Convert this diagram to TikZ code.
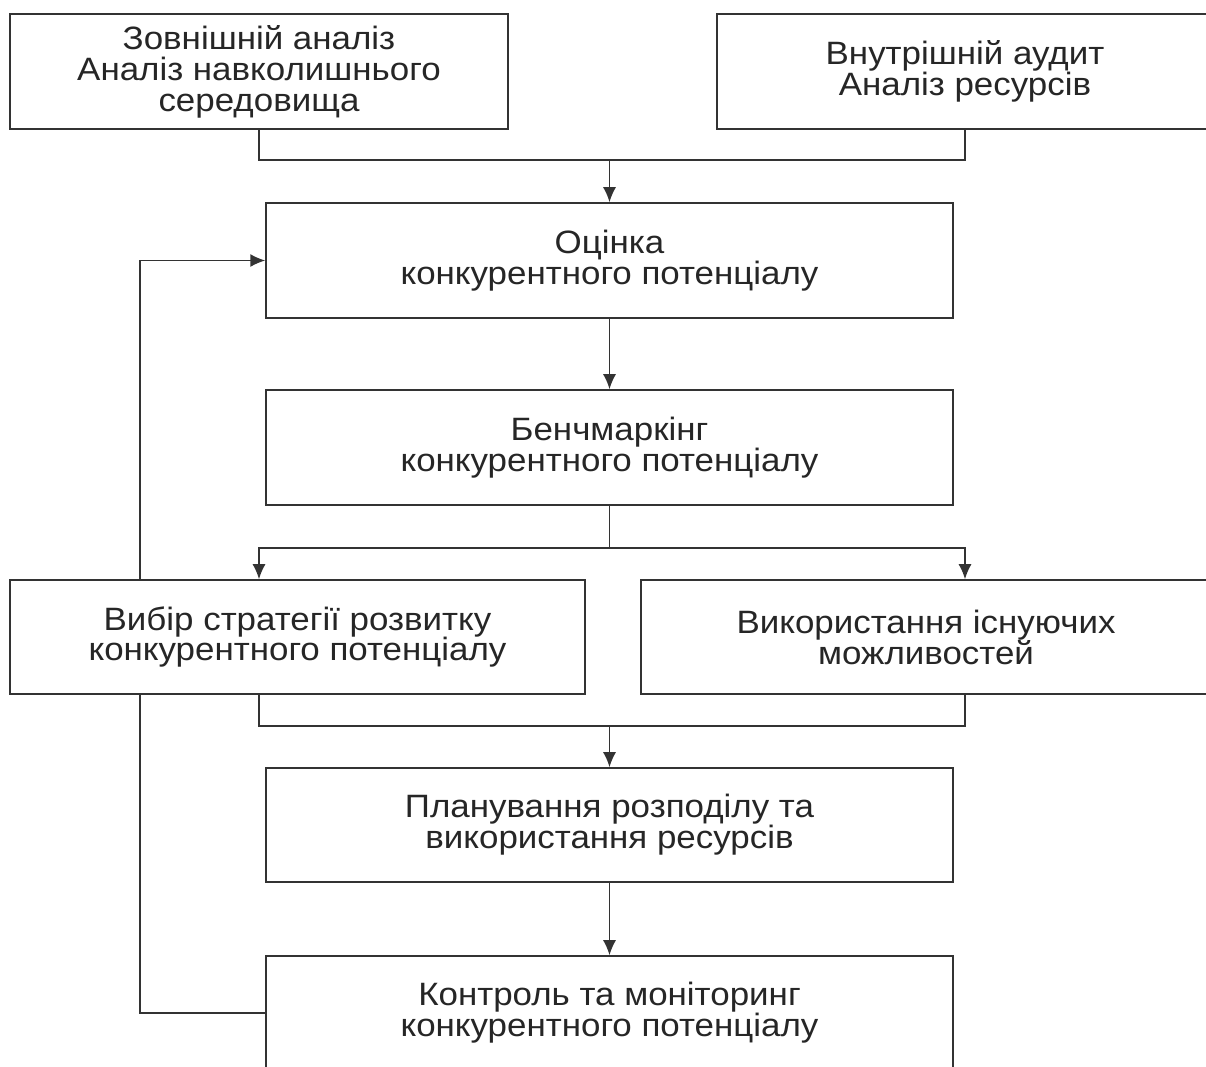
\documentclass[tikz,border=0pt]{standalone}
\usepackage{fontspec}
\setmainfont[FakeStretch=1.08]{Liberation Sans}
\usetikzlibrary{arrows.meta,backgrounds}

\tikzset{
  blok/.style={draw=black!80, line width=0.9pt, fill=white, text=black!85,
    align=center, inner sep=0pt, font=\fontsize{18.4}{17.6}\selectfont},
  strilka/.style={-{Latex[length=0.3cm,width=0.26cm]}},
  liniya/.style={draw=black!80, line width=0.9pt}
}

\begin{document}
\begin{tikzpicture}[x=0.02cm, y=-0.02cm]
 \useasboundingbox (0,0) rectangle (1206,1066);

 % upper level
 \node[blok, minimum width=9.96cm, minimum height=2.3cm] (zovn) at (259,71.5)
   {Зовнішній аналіз\\Аналіз навколишнього\\середовища};
 \node[blok, minimum width=9.92cm, minimum height=2.3cm] (vnutr) at (965,71.5)
   {Внутрішній аудит\\Аналіз ресурсів};
 \coordinate (zb) at (609.5,160);

 \node[blok, minimum width=13.74cm, minimum height=2.3cm] (otsinka) at (609.5,260.5)
   {Оцінка\\конкурентного потенціалу};
 \node[blok, minimum width=13.74cm, minimum height=2.3cm] (bench) at (609.5,447.5)
   {Бенчмаркінг\\конкурентного потенціалу};
 \coordinate (rozg) at (609.5,548);

 % middle level
 \node[blok, minimum width=11.5cm, minimum height=2.28cm] (vybir) at (297.5,637)
   {Вибір стратегії розвитку\\конкурентного потенціалу};
 \node[blok, minimum width=11.4cm, minimum height=2.28cm] (vykor) at (926,637)
   {Використання існуючих\\можливостей};
 \coordinate (zb2) at (609.5,726);

 \node[blok, minimum width=13.74cm, minimum height=2.28cm] (plan) at (609.5,825)
   {Планування розподілу та\\використання ресурсів};
 \node[blok, minimum width=13.74cm, minimum height=2.28cm] (kontrol) at (609.5,1013)
   {Контроль та моніторинг\\конкурентного потенціалу};

 \begin{scope}[on background layer]
  \draw[liniya] (zovn.south) |- (zb) -| (vnutr.south);
  \draw[liniya, strilka] (zb) -- (otsinka.north);
  \draw[liniya, strilka] (otsinka.south) -- (bench.north);

  \draw[liniya] (bench.south) -- (rozg);
  \draw[liniya, strilka] (rozg) -| (vybir.north -| zovn.south);
  \draw[liniya, strilka] (rozg) -| (vykor.north -| vnutr.south);

  \draw[liniya] (vybir.south -| zovn.south) |- (zb2) -| (vykor.south -| vnutr.south);
  \draw[liniya, strilka] (zb2) -- (plan.north);
  \draw[liniya, strilka] (plan.south) -- (kontrol.north);

  % feedback
  \draw[liniya, strilka] (kontrol.west) -- ++(-125,0) |- (otsinka.west);
 \end{scope}
\end{tikzpicture}
\end{document}
